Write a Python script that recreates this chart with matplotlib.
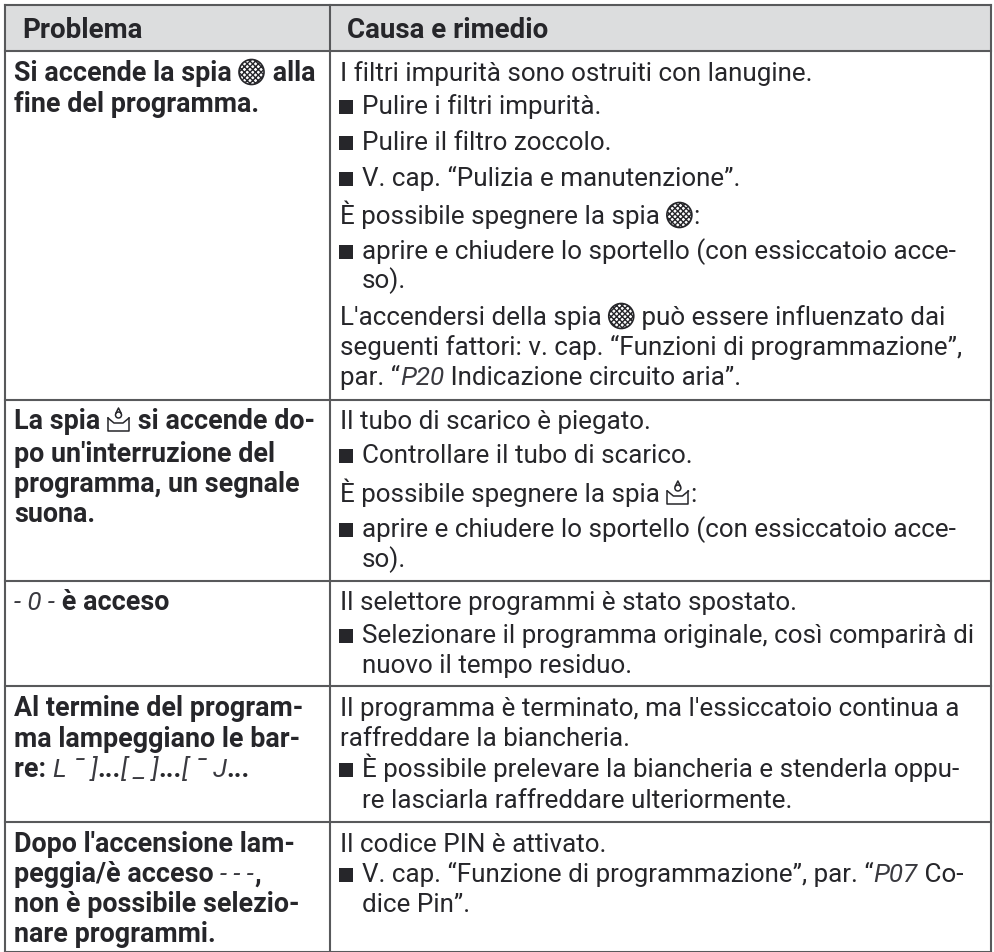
import re
import matplotlib
matplotlib.use('Agg')
import matplotlib.pyplot as plt
from matplotlib.patches import Rectangle, Circle

plt.rcParams['font.family'] = ['Roboto', 'DejaVu Sans']

# header
headers = ["Problema", "Causa e rimedio"]

# left column, "{F}" filter icon, "{W}" water icon, "<...>" display text
problem_lines = [
    "Si accende la spia {F} alla", "fine del programma.",
    "La spia {W} si accende do-", "po un'interruzione del", "programma, un segnale", "suona.",
    "<- 0 -> è acceso",
    "Al termine del program-", "ma lampeggiano le bar-", "re: <L ¯ ]>...<[ _ ]>...<[ ¯ J>...",
    "Dopo l'accensione lam-", "peggia/è acceso <- - ->,", "non è possibile selezio-", "nare programmi.",
]
problem_y = [81, 112, 429, 462, 492, 522, 610, 716, 747, 777, 852, 882, 912, 942]

# right column, "* " marks a bullet
remedy_lines = [
    "I filtri impurità sono ostruiti con lanugine.",
    "* Pulire i filtri impurità.",
    "* Pulire il filtro zoccolo.",
    "* V. cap. “Pulizia e manutenzione”.",
    "È possibile spegnere la spia {F}:",
    "* aprire e chiudere lo sportello (con essiccatoio acce-",
    "  so).",
    "L'accendersi della spia {F} può essere influenzato dai",
    "seguenti fattori: v. cap. “Funzioni di programmazione”,",
    "par. “<P20> Indicazione circuito aria”.",
    "Il tubo di scarico è piegato.",
    "* Controllare il tubo di scarico.",
    "È possibile spegnere la spia {W}:",
    "* aprire e chiudere lo sportello (con essiccatoio acce-",
    "  so).",
    "Il selettore programmi è stato spostato.",
    "* Selezionare il programma originale, così comparirà di",
    "  nuovo il tempo residuo.",
    "Il programma è terminato, ma l'essiccatoio continua a",
    "raffreddare la biancheria.",
    "* È possibile prelevare la biancheria e stenderla oppu-",
    "  re lasciarla raffreddare ulteriormente.",
    "Il codice PIN è attivato.",
    "* V. cap. “Funzione di programmazione”, par. “<P07> Co-",
    "  dice Pin”.",
]
remedy_y = [81, 114, 150, 186, 224, 259, 288, 325, 355, 385, 429, 463, 502, 537, 567,
            610, 643, 673, 716, 746, 777, 808, 852, 882, 912]

col_x = [5, 330, 991]
row_y = [5, 51, 400, 581, 686, 822, 952]

ink = '#26262a'
line_col = '#58595b'
fs = 18.75
fs_bold = 19.4
fs_head = 20.0

fig = plt.figure(figsize=(9.94, 9.52), dpi=100)
ax = fig.add_axes([0, 0, 1, 1])
ax.set_xlim(0, 994)
ax.set_ylim(952, 0)
ax.axis('off')
rend = fig.canvas.get_renderer()


def text_w(s, size, **kw):
    # trailing spaces get lost, so measure against a bar
    t = ax.text(0, 0, s + '|', fontsize=size, **kw)
    w = t.get_window_extent(rend).width
    t.set_text('|')
    w -= t.get_window_extent(rend).width
    t.remove()
    return w


def filter_icon(x, y):
    ax.add_patch(Circle((x + 13, y - 9), 12.5, facecolor='white', edgecolor=ink, lw=1.2,
                        hatch='xxxxxx', zorder=3))
    return 27


def water_icon(x, y):
    ax.plot([x + 1, x + 1, x + 22, x + 22], [y - 11, y + 2, y + 2, y - 11], color=ink, lw=1.1)
    ax.plot([x + 1, x + 7, x + 16, x + 22], [y - 11, y - 6, y - 6, y - 11], color=ink, lw=1.1)
    ax.add_patch(Circle((x + 11.5, y - 14), 3, fill=False, edgecolor=ink, lw=1.1))
    ax.plot([x + 9, x + 11.5, x + 14], [y - 16, y - 21, y - 16], color=ink, lw=1.1)
    return 24


def draw_line(x, y, s, weight='normal', size=fs):
    for part in re.split(r'(\{F\}|\{W\}|<[^>]*>)', s):
        if part == '':
            continue
        if part == '{F}':
            x += filter_icon(x, y)
        elif part == '{W}':
            x += water_icon(x, y)
        elif part.startswith('<'):
            kw = dict(style='italic', weight='normal', color='#3a3a40')
            body = part[1:-1]
            ax.text(x, y, body, fontsize=fs, va='baseline', **kw)
            x += text_w(body, fs, **kw)
        else:
            ax.text(x, y, part, fontsize=size, color=ink, weight=weight, va='baseline')
            x += text_w(part, size, weight=weight)


# header band and grid
ax.add_patch(Rectangle((col_x[0], row_y[0]), col_x[2] - col_x[0], row_y[1] - row_y[0],
                       facecolor='#dcddde', edgecolor='none', zorder=0))
for yy in row_y:
    ax.plot([col_x[0], col_x[2]], [yy, yy], color=line_col, lw=1.5, solid_capstyle='projecting')
for xx in col_x:
    ax.plot([xx, xx], [row_y[0], row_y[-1]], color=line_col, lw=1.5, solid_capstyle='projecting')

draw_line(22, 38, headers[0], weight='bold', size=fs_head)
draw_line(347, 38, headers[1], weight='bold', size=fs_head)

for s, y in zip(problem_lines, problem_y):
    draw_line(14, y, s, weight='bold', size=fs_bold)

for s, y in zip(remedy_lines, remedy_y):
    if s.startswith('* '):
        ax.add_patch(Rectangle((339, y - 14), 14, 14, facecolor=ink, edgecolor='none'))
        draw_line(362, y, s[2:])
    elif s.startswith('  '):
        draw_line(362, y, s[2:])
    else:
        draw_line(340, y, s)

fig.savefig('out.png', dpi=100)
